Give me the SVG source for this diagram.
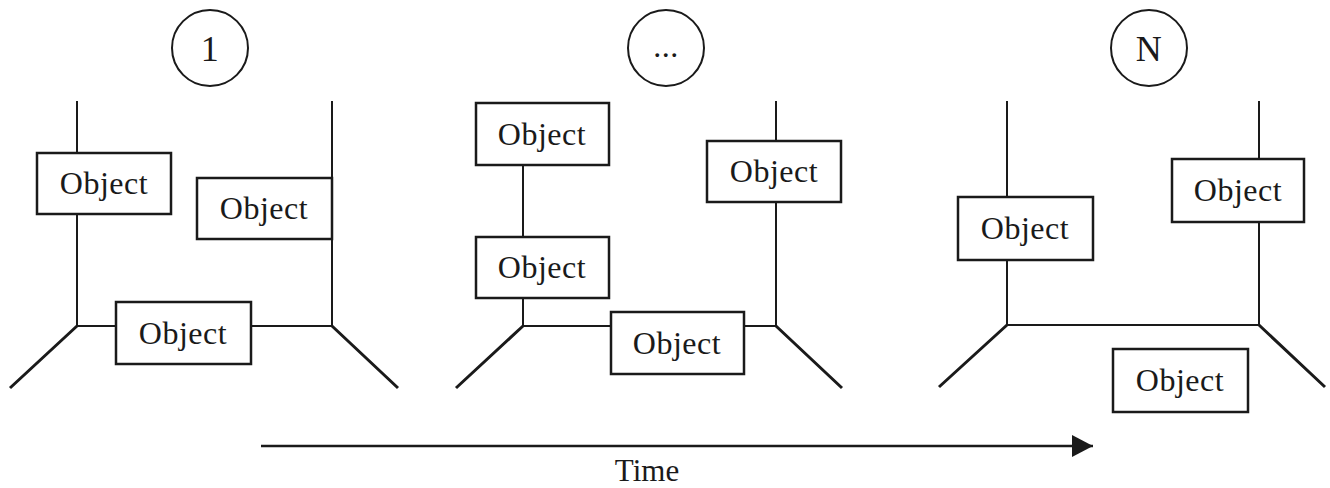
<svg xmlns="http://www.w3.org/2000/svg" width="1330" height="488" viewBox="0 0 1330 488">
<style>
.ln{stroke:#1a1a1a;stroke-width:2;fill:none;stroke-linecap:square}
.dg{stroke:#1a1a1a;stroke-width:3;fill:none}
.box{fill:#fff;stroke:#1a1a1a;stroke-width:2.5}
.circ{fill:#fff;stroke:#1a1a1a;stroke-width:2}
.t{font-family:"Liberation Serif",serif;font-size:32px;fill:#1a1a1a;text-anchor:middle;letter-spacing:0.5px}
.c{font-size:36px}
</style>
<defs>
<marker id="ah" markerUnits="userSpaceOnUse" markerWidth="22" markerHeight="22" refX="21" refY="11" orient="auto">
<path d="M0,0 L21,11 L0,22 Z" fill="#1a1a1a"/>
</marker>
</defs>
<rect width="1330" height="488" fill="#fff"/>
<g id="connectors">
<path class="ln" d="M77,102 V326 H332 V102"/>
<path class="dg" d="M77,326 L10,388 M332,326 L398,388"/>
<path class="ln" d="M523,165 V326 H776 V102"/>
<path class="dg" d="M523,326 L456,388 M776,326 L842,388"/>
<path class="ln" d="M1007,102 V325 H1259 V102"/>
<path class="dg" d="M1007,325 L939,387 M1259,325 L1325,387"/>
<line id="time-arrow" x1="261" y1="446" x2="1093" y2="446" stroke="#1a1a1a" stroke-width="2.5" marker-end="url(#ah)"/>
</g>
<g id="step-1"><circle class="circ" cx="210" cy="48" r="38"/><text class="t c" x="210" y="61">1</text></g>
<g id="step-dots"><circle class="circ" cx="666" cy="48" r="38"/><text class="t" x="666" y="57">...</text></g>
<g id="step-n"><circle class="circ" cx="1149" cy="48" r="38"/><text class="t c" x="1149" y="61">N</text></g>
<g id="p1-obj1"><rect class="box" x="37" y="153" width="134" height="61"/><text class="t" x="104" y="194">Object</text></g>
<g id="p1-obj2"><rect class="box" x="197" y="178" width="135" height="61"/><text class="t" x="264" y="219">Object</text></g>
<g id="p1-obj3"><rect class="box" x="116" y="302" width="135" height="62"/><text class="t" x="183" y="344">Object</text></g>
<g id="p2-obj1"><rect class="box" x="476" y="103" width="133" height="62"/><text class="t" x="542" y="145">Object</text></g>
<g id="p2-obj2"><rect class="box" x="476" y="237" width="133" height="61"/><text class="t" x="542" y="278">Object</text></g>
<g id="p2-obj3"><rect class="box" x="707" y="141" width="134" height="61"/><text class="t" x="774" y="182">Object</text></g>
<g id="p2-obj4"><rect class="box" x="611" y="312" width="133" height="62"/><text class="t" x="677" y="354">Object</text></g>
<g id="p3-obj1"><rect class="box" x="958" y="197" width="135" height="63"/><text class="t" x="1025" y="239">Object</text></g>
<g id="p3-obj2"><rect class="box" x="1172" y="159" width="132" height="63"/><text class="t" x="1238" y="201">Object</text></g>
<g id="p3-obj3"><rect class="box" x="1113" y="349" width="135" height="63"/><text class="t" x="1180" y="391">Object</text></g>
<text class="t" x="647" y="481" style="letter-spacing:0;font-size:31px">Time</text>
</svg>
